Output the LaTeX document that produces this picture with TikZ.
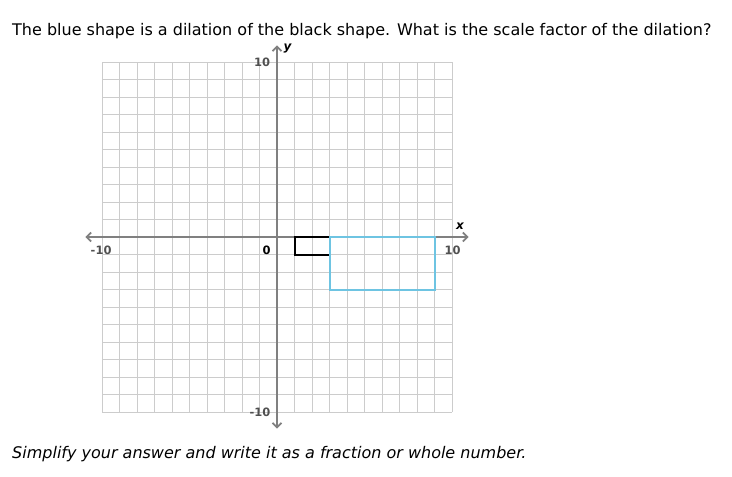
\documentclass[tikz,border=0pt]{standalone}
\usepackage{fontspec}
\setmainfont{DejaVu Sans}
\usetikzlibrary{arrows.meta}
\usetikzlibrary{positioning}

\definecolor{gridgray}{RGB}{204,204,204}
\definecolor{axisgray}{RGB}{128,128,128}
\definecolor{labelgray}{RGB}{80,80,80}
\definecolor{dilblue}{RGB}{110,196,226}

\begin{document}
\begin{tikzpicture}[
    x=17.5pt, y=17.5pt,
    gridline/.style={draw=gridgray, line width=0.9pt, step=1},
    axis/.style={draw=axisgray, line width=1.8pt, {Straight Barb[length=4.5pt,width=9pt]}-{Straight Barb[length=4.5pt,width=9pt]}},
    ticklabel/.style={font=\fontsize{11.5}{13}\selectfont\bfseries, text=labelgray, inner sep=1pt},
    axislabel/.style={font=\fontsize{12}{13}\selectfont\bfseries\itshape, inner sep=1pt},
    original/.style={draw=black, line width=2pt, line join=miter},
    dilated/.style={draw=dilblue, line width=2pt, line join=miter},
    question/.style={font=\fontsize{16}{18}\selectfont, anchor=base west, inner sep=0pt}
]

\useasboundingbox (-15.829,-13.714) rectangle (26,13.543);

% question text
\node[question] (title) at (-15.143, 11.486) {The blue shape is a dilation of the black shape. What is the scale factor of the dilation?};
\node[question, font=\fontsize{16}{18}\selectfont\itshape] (hint) at (-15.143, -12.63) {Simplify your answer and write it as a fraction or whole number.};

% grid
\draw[gridline] (-10,-10) grid (10,10);

% axes
\coordinate (x_left) at (-10.95, 0);
\coordinate (x_right) at (10.95, 0);
\coordinate (y_top) at (0, 10.95);
\coordinate (y_bottom) at (0, -10.95);
\draw[axis] (x_left) -- (x_right);
\draw[axis] (y_bottom) -- (y_top);

\node[ticklabel] (x_min) at (-10.05, -0.74) {-10};
\node[ticklabel, text=black] (zero) at (-0.6, -0.74) {0};
\node[ticklabel] (x_max) at (10.03, -0.74) {10};
\node[ticklabel] (y_max) at (-0.85, 10) {10};
\node[ticklabel] (y_min) at (-0.97, -10) {-10};
\node[axislabel] (x_name) at (10.46, 0.6) {x};
\node[axislabel] (y_name) at (0.6, 10.75) {y};

% shapes
\draw[original] (1,0) -- (3,0) -- (3,-1) -- (1,-1) -- cycle;
\draw[dilated] (3,0) -- (9,0) -- (9,-3) -- (3,-3) -- cycle;

\end{tikzpicture}
\end{document}
